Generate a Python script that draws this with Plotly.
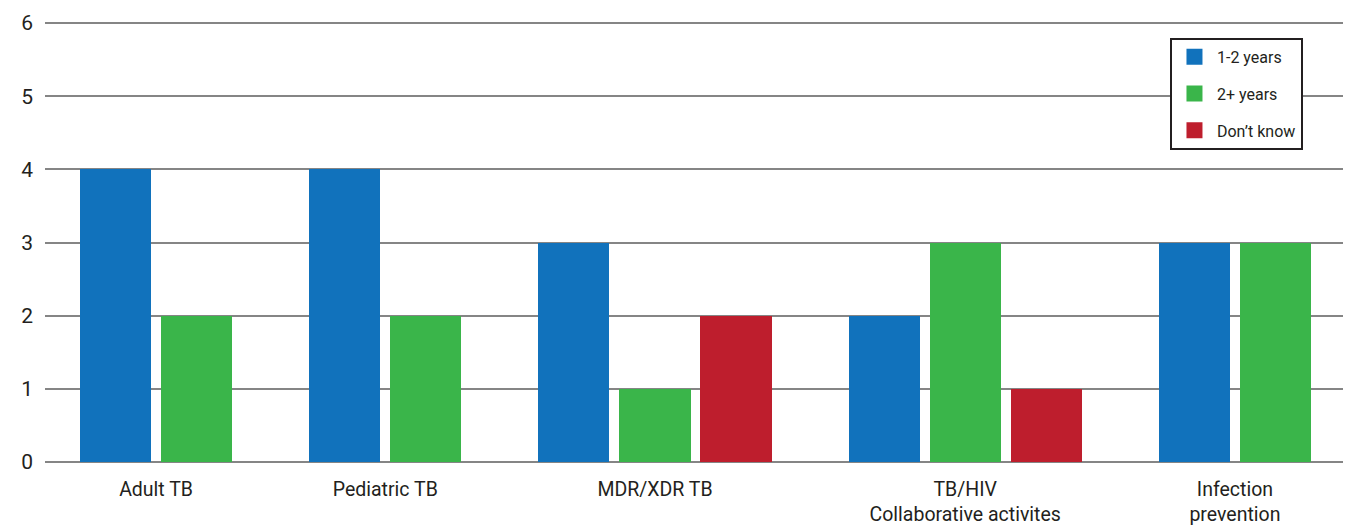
import plotly.graph_objects as go

categories = ["Adult TB", "Pediatric TB", "MDR/XDR TB",
              "TB/HIV<br>Collaborative activites", "Infection<br>prevention"]
series_names = ["1-2 years", "2+ years", "Don\u2019t know"]
one_two_years = [4, 4, 3, 2, 3]
two_plus_years = [2, 2, 1, 3, 3]
dont_know = [None, None, 2, 1, None]
y_ticks = [0, 1, 2, 3, 4, 5, 6]

colors = ["#1172BC", "#3AB54A", "#BE1E2D"]
FONT = "Roboto, Liberation Sans, sans-serif"
TEXT = "#231F20"

# layout of packed groups: missing values take no slot
BAR_W = 0.877
GROUP_GAP = 0.827
series_vals = [one_two_years, two_plus_years, dont_know]
xs = [[] for _ in series_vals]
ys = [[] for _ in series_vals]
centers = []
pos = 0.0
for ci in range(len(categories)):
    first = None
    last = None
    for si, vals in enumerate(series_vals):
        v = vals[ci]
        if v is None:
            continue
        xs[si].append(pos)
        ys[si].append(v)
        if first is None:
            first = pos
        last = pos
        pos += 1
    centers.append((first + last) / 2)
    pos += GROUP_GAP
last_pos = pos - GROUP_GAP - 1

fig = go.Figure()
for si, name in enumerate(series_names):
    fig.add_trace(go.Bar(
        x=xs[si], y=ys[si], width=BAR_W, name=name,
        marker=dict(color=colors[si], line=dict(width=0)),
        legendgroup=name, showlegend=False,
    ))
for si, name in enumerate(series_names):
    fig.add_trace(go.Scatter(
        x=[None], y=[None], mode="markers", name=name,
        marker=dict(symbol="square", size=20, color=colors[si]),
        legendgroup=name, showlegend=True,
    ))

PAD = 0.0273
fig.update_layout(
    width=1346, height=527,
    margin=dict(l=45, r=3, t=21, b=63),
    paper_bgcolor="white", plot_bgcolor="white",
    font=dict(family=FONT, color=TEXT, size=20),
    bargap=0,
    showlegend=True,
    legend=dict(
        x=0.8667, y=0.962, xanchor="left", yanchor="top",
        bordercolor="#231F20", borderwidth=2,
        bgcolor="white",
        font=dict(family=FONT, size=16, color=TEXT),
        tracegroupgap=13,
        itemwidth=35,
        itemsizing="trace",
    ),
    xaxis=dict(
        range=[-0.870, last_pos + 0.833],
        tickmode="array", tickvals=centers, ticktext=categories,
        showgrid=False, zeroline=False, showline=False, ticks="",
        tickfont=dict(size=19.5, family=FONT, color=TEXT),
        ticklabelstandoff=11,
        automargin=False,
        fixedrange=True,
    ),
    yaxis=dict(
        range=[-PAD, 6 + PAD], tickmode="array", tickvals=y_ticks,
        showgrid=True, gridcolor="#858585", gridwidth=1.6,
        zeroline=False, showline=False, ticks="",
        tickfont=dict(size=21, family=FONT, color=TEXT),
        ticklabelstandoff=11,
        automargin=False,
        fixedrange=True,
    ),
)

fig.write_html(
    "out.html",
    config={"displayModeBar": False},
    post_script="document.body.style.margin='0';document.body.style.overflow='hidden';",
)
